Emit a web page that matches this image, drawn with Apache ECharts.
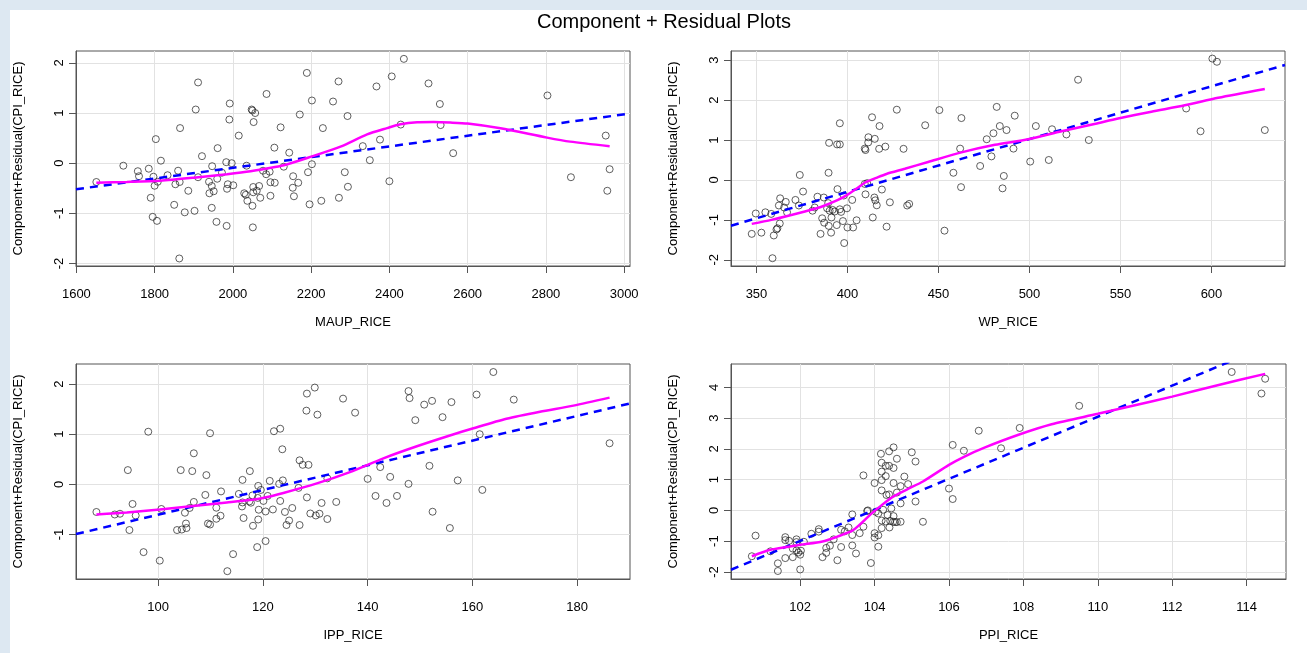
<!DOCTYPE html>
<html>
<head>
<meta charset="utf-8">
<script src="https://cdn.jsdelivr.net/npm/echarts@6/dist/echarts.min.js"></script>
<style>
html,body{margin:0;padding:0;background:#dde8f2;width:1307px;height:653px;overflow:hidden;}
#c{position:absolute;left:10px;top:10px;width:1297px;height:643px;background:#fff;}
</style>
</head>
<body>
<div id="c"></div>
<script>
// ---------- Panel 1: MAUP_RICE ----------
const maupX = [1651,1720,1757,1760,1785,1797,1790,1803,1800,1808,1795,1806,1816,1833,1853,1860,1864,1850,1865,1863,1877,1886,1902,1905,1911,1911,1921,1939,1940,1946,1946,1947,1951,1958,1960,1961,1972,1983,1985,1984,1987,1992,1991,1997,2001,2015,2029,2033,2035,2037,2048,2050,2057,2053,2050,2052,2051,2052,2061,2067,2070,2086,2077,2085,2094,2096,2107,2096,2106,2122,2130,2144,2154,2153,2156,2167,2171,2189,2192,2202,2202,2196,2226,2230,2256,2270,2271,2286,2294,2293,2332,2350,2367,2376,2400,2406,2429,2437,2500,2529,2531,2563,2804,2864,2953,2963,2957];
const maupY = [-0.375,-0.05,-0.16,-0.26,-0.11,-0.27,-0.69,0.48,-0.45,-0.37,-1.07,-1.15,0.05,-0.24,-0.42,-0.15,-0.375,-0.83,0.70,-1.90,-0.98,-0.55,-0.95,1.07,1.61,-0.28,0.14,-0.37,-0.60,-0.455,-0.89,-0.06,-0.56,-1.17,-0.31,0.30,-0.19,0.02,-0.51,-1.25,-0.42,1.19,0.87,0,-0.44,0.55,-0.60,-0.63,-0.05,-0.75,1.07,1.05,1.0,0.82,-0.85,-0.475,-1.28,-0.58,-0.55,-0.455,-0.69,1.38,-0.15,-0.22,-0.17,-0.38,-0.39,-0.65,0.31,0.715,-0.07,0.21,-0.26,-0.49,-0.66,-0.39,0.97,1.80,-0.18,1.25,-0.02,-0.82,-0.75,0.70,1.23,1.63,-0.69,-0.18,-0.47,0.94,0.34,0.06,1.53,0.47,-0.36,1.73,0.77,2.08,1.59,1.18,0.76,0.20,1.35,-0.28,0.55,-0.12,-0.55];
const maupFitX = [1599, 3015];
const maupFitY = [-0.52, 0.99];
const maupSmoothX = [1651,1729,1814,1900,1985,2045,2130,2202,2275,2343,2394,2428,2471,2513,2556,2600,2684,2803,2862,2963];
const maupSmoothY = [-0.39,-0.375,-0.35,-0.29,-0.22,-0.16,-0.04,0.135,0.33,0.575,0.70,0.775,0.815,0.82,0.81,0.79,0.695,0.51,0.43,0.34];
const maupXTicks = [1600,1800,2000,2200,2400,2600,2800,3000];
const maupYTicks = [-2,-1,0,1,2];

// ---------- Panel 2: WP_RICE ----------
const wpX = [347.4,349.6,352.7,354.9,358.1,358.8,359.5,361,361.5,362.8,362.3,363,365.2,366.1,366.8,371.4,373.8,373.3,375.6,380.8,382,383.5,385.2,386.1,387.2,387,389.4,389.6,389.9,389.7,388.8,390.2,391,391.8,391.2,393,394.1,394.5,394.3,395.8,395.8,395.8,396.5,397.5,398.2,398,399.7,400,402.6,403.1,405,409.5,409.9,409.5,410.8,409.9,411.5,411.4,413.5,415,414.8,415.3,416.1,413.9,417.6,417.4,418.9,420.8,421.5,423.3,427.1,430.8,432.8,433.9,442.7,450.5,453.3,458.2,461.9,462.6,462.4,472.9,476.5,479.1,480.2,482,483.7,485.9,485.2,487.4,491.2,491.9,500.4,503.5,510.6,512.4,520.3,526.7,532.6,586.1,594,600.5,603,629.3];
const wpY = [-1.35,-0.84,-1.32,-0.81,-0.85,-1.96,-1.39,-1.24,-1.21,-1.09,-0.64,-0.46,-0.69,-0.55,-0.81,-0.50,0.125,-0.64,-0.29,-0.77,-0.69,-0.42,-1.35,-0.96,-1.07,-0.44,-0.58,0.18,0.93,-1.15,-0.71,-0.77,-1.32,-0.75,-0.94,-0.79,-1.13,-0.23,0.89,0.89,1.42,-0.735,-0.80,-1.03,-1.58,-0.39,-0.71,-1.19,-0.50,-1.19,-1.01,0.785,0.75,-0.10,-0.08,-0.36,1.07,0.94,1.57,1.03,-0.44,-0.51,-0.635,-0.94,1.35,0.78,-0.24,0.835,-1.17,-0.56,1.76,0.78,-0.64,-0.60,1.37,1.75,-1.27,0.18,0.785,1.55,-0.18,0.35,1.02,0.59,1.17,1.83,1.35,0.10,-0.21,1.25,0.785,1.61,0.46,1.35,0.50,1.27,1.14,2.51,1.0,1.79,1.22,3.04,2.96,1.25];
const wpFitX = [336, 640.4];
const wpFitY = [-1.145, 2.88];
const wpSmoothX = [347.4,358.2,376.6,385.7,394.8,400.3,405.8,409.5,416.8,421.4,431.5,444.3,462.6,481,499.3,517.6,536.3,548.7,567,585.3,603.7,629.3];
const wpSmoothY = [-1.10,-1.0,-0.79,-0.67,-0.50,-0.36,-0.19,-0.07,0.07,0.15,0.28,0.45,0.69,0.88,1.02,1.22,1.41,1.54,1.71,1.87,2.06,2.28];
const wpXTicks = [350,400,450,500,550,600];
const wpYTicks = [-2,-1,0,1,2,3];

// ---------- Panel 3: IPP_RICE ----------
const ippX = [88.2,91.7,92.7,94.2,94.5,95.1,95.7,97.2,98.1,100.3,100.6,103.6,104.5,104.3,105.3,105.4,105.1,106,106.5,106.8,106.8,109,109.2,109.5,109.9,109.9,111.1,111.1,111.9,112,113.2,114.3,115.4,116.1,116,116.3,116.1,117.5,117.4,117.7,118,118.1,118.9,119.1,119.2,119.1,119,119.6,120.1,120.5,120.5,120.9,121.3,121.9,122.1,123.3,123.3,123.7,123.8,123.1,124.2,124.5,125,125.6,127,127,126.8,127.6,128.4,128.3,128.4,128.7,129.05,129.9,130.1,130.4,130.8,131.2,132.3,132.3,134,135.3,137.6,140,141.5,142.4,143.6,144.3,145.6,147.8,148,147.8,149.1,150.8,151.8,152.3,152.4,154.3,155.7,156,157.2,160.8,161.4,161.9,164,167.9,186.2];
const ippY = [-0.55,-0.60,-0.585,0.285,-0.91,-0.39,-0.62,-1.35,1.05,-1.52,-0.49,-0.91,-0.90,0.285,-0.78,-0.87,-0.565,-0.47,0.265,0.62,-0.35,-0.21,0.185,-0.78,1.02,-0.80,-0.685,-0.465,-0.625,-0.14,-1.73,-1.39,-0.19,0.09,-0.44,-0.67,-0.36,0.265,-0.34,-0.365,-0.22,-0.825,-1.25,-0.03,-0.505,-0.70,-0.27,-0.11,-0.33,-1.13,-0.54,-0.23,0.07,-0.50,1.06,1.11,-0.33,0.70,0.08,0.01,-0.55,-0.81,-0.72,-0.47,0.48,-0.81,-0.07,0.39,1.81,1.47,-0.26,0.39,-0.58,1.93,-0.62,1.39,-0.585,-0.37,0.12,-0.69,-0.35,1.71,1.43,0.11,-0.23,0.345,-0.37,0.15,-0.23,1.86,1.72,0.01,1.28,1.59,0.37,1.665,-0.545,1.34,-0.87,1.64,0.08,1.79,1.0,-0.11,2.24,1.69,0.82];
const ippFitX = [84.3, 190.1];
const ippFitY = [-0.99, 1.613];
const ippSmoothX = [88.2,94,100.3,106.7,113.1,117.5,120,123.9,130.3,136.6,143,149.4,155.7,160.2,166.5,172.9,179.3,186.2];
const ippSmoothY = [-0.60,-0.56,-0.50,-0.43,-0.36,-0.31,-0.27,-0.17,0.02,0.245,0.52,0.76,0.975,1.12,1.31,1.45,1.57,1.73];
const ippXTicks = [100,120,140,160,180];
const ippYTicks = [-1,0,1,2];

// ---------- Panel 4: PPI_RICE ----------
const ppiX = [100.7,100.8,101.2,101.4,101.4,101.6,101.6,101.6,101.7,101.8,101.8,101.9,101.9,101.9,101.95,102,102,102.02,102.1,102.3,102.5,102.5,102.6,102.7,102.7,102.8,102.9,103,103.1,103.1,103.2,103.3,103.4,103.4,103.4,103.5,103.6,103.7,103.7,103.8,103.82,103.9,104,104,104,104.03,104.1,104.1,104.1,104.17,104.19,104.19,104.19,104.19,104.19,104.19,104.23,104.3,104.3,104.3,104.32,104.35,104.39,104.39,104.39,104.42,104.4,104.45,104.5,104.51,104.51,104.51,104.51,104.55,104.6,104.6,104.6,104.7,104.7,104.7,104.8,104.9,105,105.1,105.1,105.3,106,106.1,106.1,106.4,106.8,107.4,107.9,109.5,113.6,114.5,114.4];
const ppiY = [-1.49,-0.82,-1.33,-1.72,-1.97,-0.87,-1.55,-0.965,-0.99,-1.52,-1.24,-1.03,-0.94,-1.30,-1.37,-1.44,-1.92,-1.31,-1.02,-0.76,-0.69,-0.61,-1.52,-1.38,-1.22,-1.15,-0.94,-1.62,-1.19,-0.63,-0.68,-0.555,-0.80,-0.13,-1.14,-1.40,-0.74,1.14,-0.53,-0.02,0,-1.71,0.89,-0.74,-0.88,-0.045,-1.18,-0.81,-0.10,1.84,1.55,1.26,0.985,0.65,-0.33,-0.575,0.02,1.45,1.115,-0.36,0.50,-0.15,1.45,0.52,1.92,-0.34,-0.555,0.064,-0.37,2.05,1.38,0.89,-0.185,-0.38,1.68,-0.38,0.58,0.23,-0.37,0.79,1.10,0.855,1.89,1.59,0.29,-0.37,0.71,0.37,2.13,1.94,2.59,2.02,2.68,3.40,4.50,4.28,3.80];
const ppiFitX = [100.14, 115.06];
const ppiFitY = [-1.93, 5.60];
const ppiSmoothX = [100.7,101.2,102,102.6,103,103.4,103.65,103.9,104.2,104.5,104.9,105.3,106,106.43,106.97,107.87,108.76,110,111,112,113.25,114.5];
const ppiSmoothY = [-1.49,-1.28,-1.12,-1.01,-0.85,-0.66,-0.41,-0.12,0.18,0.45,0.70,0.94,1.48,1.76,2.05,2.46,2.80,3.14,3.42,3.70,4.08,4.44];
const ppiXTicks = [102,104,106,108,110,112,114];
const ppiYTicks = [-2,-1,0,1,2,3,4];

const yTitle = 'Component+Residual(CPI_RICE)';
const FONT = '"Liberation Sans", Arial, sans-serif';

const zip = (a, b) => a.map((v, i) => [v, b[i]]);
const plain = v => String(v);

const panels = [
  {name:'MAUP_RICE', x:maupX, y:maupY, fx:maupFitX, fy:maupFitY, sx:maupSmoothX, sy:maupSmoothY, xt:maupXTicks, yt:maupYTicks,
   xmin:1599, xmax:3015, ymin:-2.05, ymax:2.237, grid:{left:66, top:41, width:554, height:215}},
  {name:'WP_RICE', x:wpX, y:wpY, fx:wpFitX, fy:wpFitY, sx:wpSmoothX, sy:wpSmoothY, xt:wpXTicks, yt:wpYTicks,
   xmin:336, xmax:640.4, ymin:-2.155, ymax:3.23, grid:{left:721, top:41, width:554, height:215}},
  {name:'IPP_RICE', x:ippX, y:ippY, fx:ippFitX, fy:ippFitY, sx:ippSmoothX, sy:ippSmoothY, xt:ippXTicks, yt:ippYTicks,
   xmin:84.3, xmax:190.1, ymin:-1.886, ymax:2.40, grid:{left:66, top:354, width:554, height:215}},
  {name:'PPI_RICE', x:ppiX, y:ppiY, fx:ppiFitX, fy:ppiFitY, sx:ppiSmoothX, sy:ppiSmoothY, xt:ppiXTicks, yt:ppiYTicks,
   xmin:100.14, xmax:115.06, ymin:-2.23, ymax:4.76, grid:{left:721, top:354, width:555, height:215}}
];

const grid = [], xAxis = [], yAxis = [], series = [];
panels.forEach((p, i) => {
  grid.push(Object.assign({show:true, borderColor:'#555', borderWidth:1, containLabel:false}, p.grid));
  xAxis.push({
    gridIndex:i, type:'value', min:p.xmin, max:p.xmax,
    name:p.name, nameLocation:'middle', nameGap:50,
    nameTextStyle:{fontSize:13, color:'#000', fontFamily:FONT},
    axisLine:{show:true, onZero:false, lineStyle:{color:'#555', width:1}},
    axisTick:{show:true, length:7, customValues:p.xt, lineStyle:{color:'#555', width:1}},
    axisLabel:{customValues:p.xt, formatter:plain, margin:22, fontSize:13, color:'#000', fontFamily:FONT, hideOverlap:false},
    splitLine:{show:true, lineStyle:{color:'#e2e2e2', width:1}}
  });
  yAxis.push({
    gridIndex:i, type:'value', min:p.ymin, max:p.ymax,
    name:yTitle, nameLocation:'middle', nameGap:51,
    nameTextStyle:{fontSize:13, color:'#000', fontFamily:FONT},
    axisLine:{show:true, onZero:false, lineStyle:{color:'#555', width:1}},
    axisTick:{show:true, length:7, customValues:p.yt, lineStyle:{color:'#555', width:1}},
    axisLabel:{customValues:p.yt, formatter:plain, rotate:90, margin:10, fontSize:13, color:'#000', fontFamily:FONT, hideOverlap:false},
    splitLine:{show:true, lineStyle:{color:'#e2e2e2', width:1}}
  });
  series.push({
    type:'scatter', xAxisIndex:i, yAxisIndex:i, data:zip(p.x, p.y),
    symbol:'circle', symbolSize:7,
    itemStyle:{color:'rgba(0,0,0,0)', borderColor:'#222', borderWidth:0.9},
    silent:true, z:3
  });
  series.push({
    type:'line', xAxisIndex:i, yAxisIndex:i, data:zip(p.fx, p.fy),
    showSymbol:false, clip:true, silent:true, z:4,
    lineStyle:{color:'#0000ff', width:2.5, type:[8,6], cap:'butt'}
  });
  series.push({
    type:'line', xAxisIndex:i, yAxisIndex:i, data:zip(p.sx, p.sy),
    showSymbol:false, smooth:0.25, clip:true, silent:true, z:5,
    lineStyle:{color:'#ff00ff', width:2.5}
  });
});

const chart = echarts.init(document.getElementById('c'), null, {renderer:'canvas'});
chart.setOption({
  animation:false,
  backgroundColor:'#ffffff',
  title:{text:'Component + Residual Plots', left:654, top:2, padding:0, textAlign:'center',
    textStyle:{fontSize:20, fontWeight:'normal', color:'#000', fontFamily:FONT}},
  grid, xAxis, yAxis, series
});
</script>
</body>
</html>
